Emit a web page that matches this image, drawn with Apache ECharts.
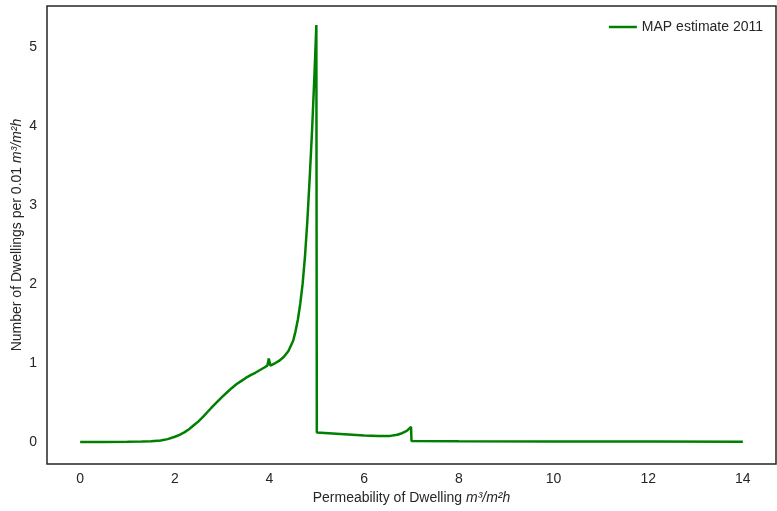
<!DOCTYPE html>
<html>
<head>
<meta charset="utf-8">
<script src="https://cdn.jsdelivr.net/npm/echarts@6/dist/echarts.min.js"></script>
<style>
html, body { margin: 0; padding: 0; background: #fff; }
#chart { width: 777px; height: 511px; }
</style>
</head>
<body>
<div id="chart"></div>
<script>
// MAP estimate 2011 - permeability distribution
var seriesName = 'MAP estimate 2011';
var permX = [0, 0.5, 1.0, 1.3, 1.5, 1.7, 1.85, 2.0, 2.1, 2.2, 2.3, 2.4, 2.5, 2.6, 2.7, 2.8, 2.9, 3.0, 3.1, 3.2, 3.3, 3.4, 3.5, 3.6, 3.7, 3.8, 3.9, 3.955, 3.985, 4.02, 4.1, 4.2, 4.3, 4.4, 4.5, 4.55, 4.6, 4.65, 4.7, 4.75, 4.8, 4.85, 4.9, 4.95, 4.99, 5.0, 5.5, 6.0, 6.3, 6.55, 6.7, 6.8, 6.9, 6.99, 7.0, 8, 10, 12, 14];
var dwellY = [0, 0, 0.001, 0.004, 0.008, 0.018, 0.035, 0.065, 0.09, 0.12, 0.16, 0.21, 0.26, 0.32, 0.385, 0.45, 0.51, 0.57, 0.625, 0.68, 0.73, 0.77, 0.81, 0.845, 0.875, 0.91, 0.945, 0.965, 1.055, 0.965, 0.99, 1.025, 1.075, 1.15, 1.28, 1.4, 1.55, 1.75, 2.0, 2.35, 2.8, 3.35, 3.95, 4.65, 5.28, 0.12, 0.1, 0.08, 0.074, 0.076, 0.09, 0.11, 0.14, 0.19, 0.012, 0.009, 0.006, 0.004, 0.002];
var xTicks = [0, 2, 4, 6, 8, 10, 12, 14];
var yTicks = [0, 1, 2, 3, 4, 5];

var pts = [];
for (var i = 0; i < permX.length; i++) {
    pts.push([permX[i], dwellY[i]]);
}

var txt = '#262626';
var font = 'Liberation Sans, Arial, sans-serif';

var option = {
    animation: false,
    grid: {
        left: 47, right: 1, top: 6, bottom: 47,
        outerBoundsMode: 'none',
        containLabel: false,
        show: true,
        borderColor: txt,
        borderWidth: 1.5
    },
    legend: {
        data: [seriesName],
        right: 9, top: 15,
        icon: 'rect',
        itemWidth: 28, itemHeight: 2.5,
        itemGap: 10,
        textStyle: { color: txt, fontSize: 14, fontFamily: font }
    },
    xAxis: {
        type: 'value',
        min: -0.7, max: 14.7,
        name: 'Permeability of Dwelling {i|m³/m²h}',
        nameLocation: 'middle',
        nameMoveOverlap: false,
        nameGap: 27,
        nameTextStyle: {
            color: txt, fontSize: 14, fontFamily: font,
            rich: { i: { fontStyle: 'italic', fontSize: 14, fontFamily: font, color: txt } }
        },
        axisLine: { show: false },
        axisTick: { show: false },
        splitLine: { show: false },
        axisLabel: { customValues: xTicks, color: txt, fontSize: 14, fontFamily: font, margin: 8 }
    },
    yAxis: {
        type: 'value',
        min: -0.28, max: 5.52,
        name: 'Number of Dwellings per 0.01 {i|m³/m²h}',
        nameLocation: 'middle',
        nameRotate: 90,
        nameMoveOverlap: false,
        nameGap: 23,
        nameTextStyle: {
            color: txt, fontSize: 14, fontFamily: font,
            rich: { i: { fontStyle: 'italic', fontSize: 14, fontFamily: font, color: txt } }
        },
        axisLine: { show: false },
        axisTick: { show: false },
        splitLine: { show: false },
        axisLabel: { customValues: yTicks, color: txt, fontSize: 14, fontFamily: font, margin: 10 }
    },
    series: [
        {
            name: seriesName,
            type: 'line',
            data: pts,
            showSymbol: false,
            symbol: 'none',
            itemStyle: { color: '#008000' },
            lineStyle: { color: '#008000', width: 2.5 }
        }
    ]
};

var myChart = echarts.init(document.getElementById('chart'));
myChart.setOption(option);
</script>
</body>
</html>
